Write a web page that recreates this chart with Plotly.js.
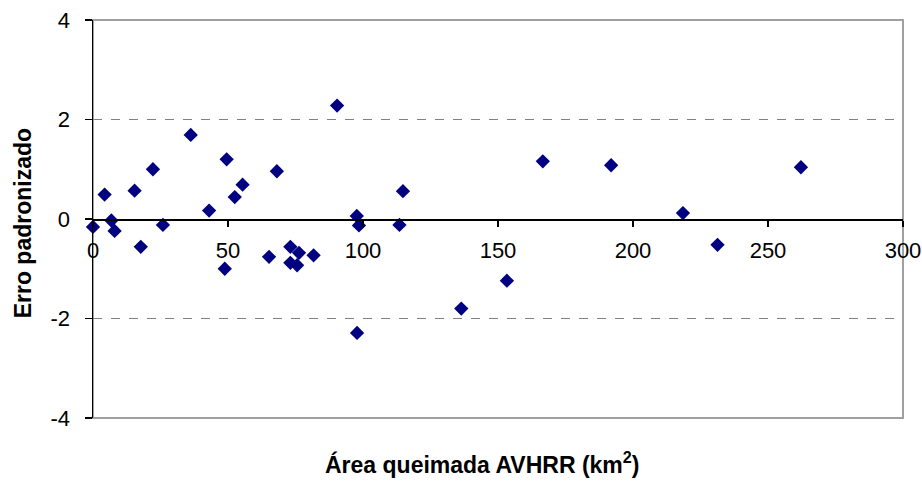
<!DOCTYPE html>
<html>
<head>
<meta charset="utf-8">
<script src="https://cdn.plot.ly/plotly-3.0.1.min.js"></script>
<style>html,body{margin:0;padding:0;background:#fff;}#chart{width:922px;height:482px;}</style>
</head>
<body>
<div id="chart"></div>
<script>
// Área queimada AVHRR (km²)
const areaAVHRR = [0, 4.3, 6.8, 8.0, 15.4, 17.7, 22.2, 25.9, 36.2, 43.0, 48.8, 49.5, 52.5, 55.4,
  65.2, 68.1, 73.1, 73.1, 75.6, 76.3, 81.7, 90.4, 97.7, 97.8, 98.5, 113.5, 114.8, 136.4,
  153.3, 166.6, 191.9, 218.5, 231.3, 262.2];
// Erro padronizado
const erroPadronizado = [-0.16, 0.49, -0.03, -0.24, 0.57, -0.56, 1.00, -0.12, 1.69, 0.17, -1.00, 1.20, 0.44, 0.69,
  -0.76, 0.96, -0.56, -0.88, -0.93, -0.68, -0.73, 2.28, 0.06, -2.29, -0.13, -0.12, 0.56, -1.80,
  -1.24, 1.16, 1.08, 0.12, -0.52, 1.04];
const xTicks = [0, 50, 100, 150, 200, 250, 300];
const yTicks = [-4, -2, 0, 2, 4];

const fontFamily = '"Liberation Sans", Arial, sans-serif';

const trace = {
  type: 'scatter',
  mode: 'markers',
  x: areaAVHRR,
  y: erroPadronizado,
  cliponaxis: false,
  marker: {symbol: 'diamond', size: 11, color: '#000080', line: {width: 0}},
  hoverinfo: 'x+y'
};

const layout = {
  width: 922, height: 482,
  margin: {l: 93, r: 19, t: 20, b: 64},
  paper_bgcolor: '#ffffff',
  plot_bgcolor: '#ffffff',
  showlegend: false,
  font: {family: fontFamily, color: '#000', size: 22},
  xaxis: {
    range: [0, 300],
    tickvals: xTicks,
    ticktext: xTicks.map(String),
    anchor: 'free',
    position: 0.5,
    showline: true, linecolor: '#000', linewidth: 1.5,
    ticks: 'outside', ticklen: 6, tickcolor: '#000', tickwidth: 1.5,
    ticklabelstandoff: 5,
    showgrid: false, zeroline: false,
    tickfont: {family: fontFamily, size: 22, color: '#000'}
  },
  yaxis: {
    range: [-4, 4],
    tickvals: yTicks,
    ticktext: yTicks.map(String),
    showline: true, linecolor: '#000', linewidth: 1.5,
    ticks: 'outside', ticklen: 7, tickcolor: '#000', tickwidth: 1.5,
    ticklabelstandoff: 10,
    showgrid: true, gridcolor: '#808080', gridwidth: 1, griddash: 'dash',
    zeroline: false,
    tickfont: {family: fontFamily, size: 22, color: '#000'}
  },
  shapes: [{
    type: 'rect', xref: 'paper', yref: 'paper', x0: 0, x1: 1, y0: 0, y1: 1,
    line: {color: '#a0a0a0', width: 2}, layer: 'below'
  }],
  annotations: [
    {text: '<b>Erro padronizado</b>', xref: 'paper', yref: 'paper', x: -0.086, y: 0.49,
     xanchor: 'center', yanchor: 'middle', textangle: -90, showarrow: false,
     font: {family: fontFamily, size: 23, color: '#000'}},
    {text: '<b>Área queimada AVHRR (km<sup>2</sup>)</b>', xref: 'paper', yref: 'paper', x: 0.48, y: -0.114,
     xanchor: 'center', yanchor: 'middle', showarrow: false,
     font: {family: fontFamily, size: 23, color: '#000'}}
  ]
};

Plotly.newPlot('chart', [trace], layout, {displayModeBar: false, staticPlot: true});
</script>
</body>
</html>
